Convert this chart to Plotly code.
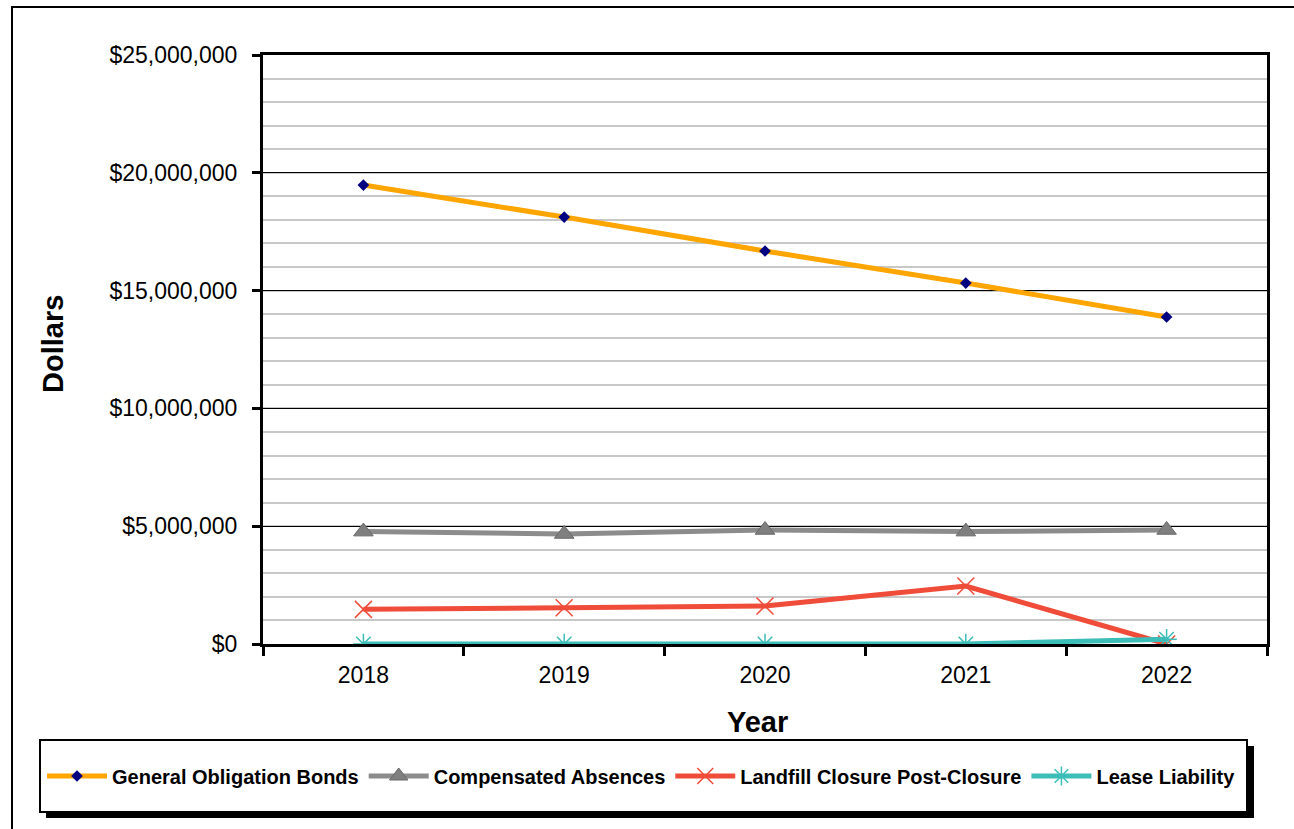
import plotly.graph_objects as go

# Long-term obligations by fiscal year
years = ["2018", "2019", "2020", "2021", "2022"]
general_obligation_bonds = [19480000, 18120000, 16680000, 15320000, 13880000]
compensated_absences = [4770000, 4670000, 4840000, 4770000, 4840000]
landfill_closure = [1470000, 1540000, 1610000, 2460000, 0]
lease_liability = [0, 0, 0, 0, 200000]

y_ticks = [0, 5000000, 10000000, 15000000, 20000000, 25000000]
y_tick_labels = ["$0", "$5,000,000", "$10,000,000", "$15,000,000", "$20,000,000", "$25,000,000"]

W, H = 1294, 829
L, R, T, B = 263, 1267, 55, 644
FONT = "Arial, Liberation Sans, sans-serif"


def px(x):
    return (x - L) / (R - L)


def py(y):
    return (B - y) / (B - T)


fig = go.Figure()

fig.add_trace(go.Scatter(
    x=years, y=general_obligation_bonds, name="General Obligation Bonds",
    mode="lines+markers",
    line=dict(color="#FFA500", width=5),
    marker=dict(symbol="diamond", size=9, color="#000080", line=dict(width=0)),
))
fig.add_trace(go.Scatter(
    x=years, y=compensated_absences, name="Compensated Absences",
    mode="lines+markers",
    line=dict(color="#8C8C8C", width=5),
    marker=dict(symbol="triangle-up", size=17, color="#7F7F7F",
                line=dict(color="#6A6A6A", width=1)),
))
fig.add_trace(go.Scatter(
    x=years, y=landfill_closure, name="Landfill Closure Post-Closure",
    mode="lines+markers",
    line=dict(color="#EF4C3A", width=5),
    marker=dict(symbol="x-thin-open", size=17, color="#EF4C3A",
                line=dict(color="#EF4C3A", width=1.5)),
))
fig.add_trace(go.Scatter(
    x=years, y=lease_liability, name="Lease Liability",
    mode="lines+markers",
    line=dict(color="#3DBDB8", width=5),
    marker=dict(symbol="asterisk-open", size=17, color="#3DBDB8",
                line=dict(color="#3DBDB8", width=1.5)),
))

shapes = [
    # outer frame
    dict(type="rect", xref="paper", yref="paper",
         x0=px(12), x1=px(1310), y0=py(845), y1=py(7),
         line=dict(color="black", width=2), layer="below"),
    # legend shadow
    dict(type="rect", xref="paper", yref="paper",
         x0=px(46), x1=px(1254), y0=py(818), y1=py(746),
         fillcolor="black", line=dict(width=0), layer="below"),
    # legend box
    dict(type="rect", xref="paper", yref="paper",
         x0=px(40), x1=px(1247), y0=py(812), y1=py(740),
         fillcolor="white", line=dict(color="black", width=2), layer="below"),
]

annotations = [
    dict(text="<b>Dollars</b>", x=px(53), y=py(344), xref="paper", yref="paper",
         textangle=-90, showarrow=False, font=dict(family=FONT, size=29, color="black"),
         xanchor="center", yanchor="middle"),
    dict(text="<b>Year</b>", x=px(757), y=py(722), xref="paper", yref="paper",
         showarrow=False, font=dict(family=FONT, size=29, color="black"),
         xanchor="center", yanchor="middle"),
]

fig.update_layout(
    width=W, height=H,
    margin=dict(l=L, r=W - R, t=T, b=H - B),
    paper_bgcolor="white", plot_bgcolor="white",
    font=dict(family=FONT, color="black"),
    shapes=shapes, annotations=annotations,
    legend=dict(
        orientation="h", x=px(42), xanchor="left", y=py(776), yanchor="middle",
        font=dict(family=FONT, size=20, color="black", weight="bold"),
        bgcolor="rgba(0,0,0,0)", itemwidth=60, tracegroupgap=0,
    ),
    xaxis=dict(
        type="category", range=[-0.5, 4.5],
        showline=True, linecolor="black", linewidth=3, mirror=True,
        ticks="outside", tickson="boundaries", ticklen=9, tickwidth=3, tickcolor="black",
        tickfont=dict(family=FONT, size=23, color="black"),
        ticklabelstandoff=8,
        showgrid=False, zeroline=False,
    ),
    yaxis=dict(
        range=[0, 25000000], tickvals=y_ticks, ticktext=y_tick_labels,
        showline=True, linecolor="black", linewidth=3, mirror=True,
        ticks="outside", ticklen=8, tickwidth=3, tickcolor="black",
        tickfont=dict(family=FONT, size=23, color="black"),
        ticklabelstandoff=10,
        showgrid=True, gridcolor="black", gridwidth=1, zeroline=False,
        minor=dict(dtick=1000000, showgrid=True, gridcolor="#C8C8C8", gridwidth=1.5),
    ),
)

fig.write_html("out.html")
